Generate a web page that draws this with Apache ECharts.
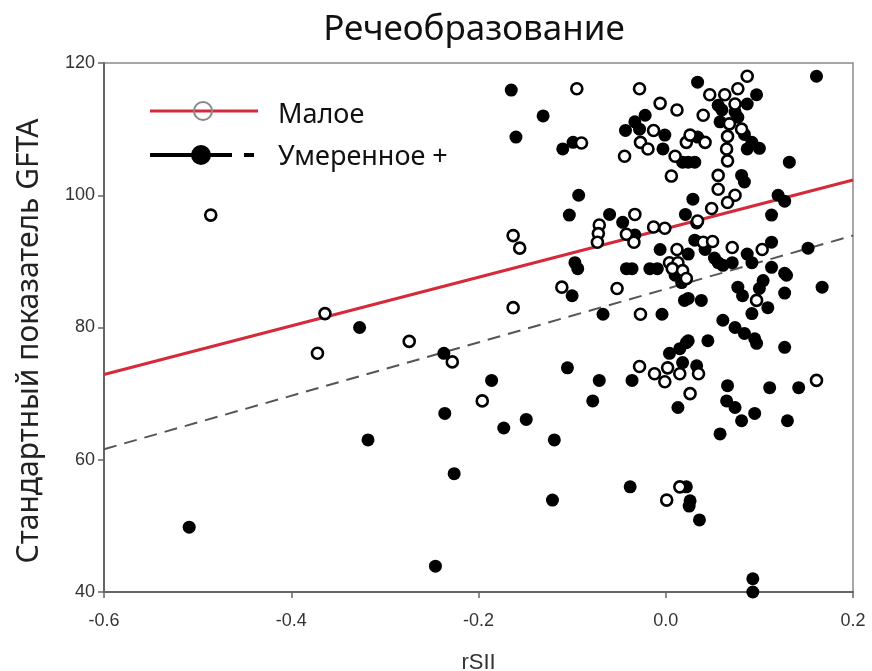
<!DOCTYPE html>
<html>
<head>
<meta charset="utf-8">
<script src="https://cdn.jsdelivr.net/npm/echarts@6/dist/echarts.min.js"></script>
<style>
html,body{margin:0;padding:0;background:#fff;}
#chart{width:872px;height:671px;}
</style>
</head>
<body>
<div id="chart"></div>
<script>
// ---- data ----
var titleText = 'Речеобразование';
var xAxisName = 'rSII';
var yAxisName = 'Стандартный показатель GFTA';
var seriesNames = ['Малое', 'Умеренное +'];

// Малое (hollow circles): [rSII, GFTA]
var maloePoints = [
  [-0.486,97.0],[-0.364,82.1],[-0.372,76.1],[-0.274,77.9],[-0.228,74.8],[-0.196,68.9],
  [-0.163,93.9],[-0.156,92.0],[-0.163,83.0],[-0.095,116.1],[-0.090,107.9],[-0.111,86.1],
  [-0.028,116.1],[-0.006,113.9],[0.012,112.9],[-0.013,109.8],[-0.027,108.0],[-0.019,107.0],
  [-0.044,105.9],[0.010,105.9],[0.022,108.0],[0.006,102.9],[-0.071,95.5],[-0.072,94.2],
  [-0.073,92.9],[-0.033,97.1],[-0.042,94.1],[-0.034,92.9],[-0.013,95.2],[-0.001,95.0],
  [0.012,91.8],[0.004,89.8],[0.013,89.8],[0.007,88.9],[0.018,88.6],[0.022,87.4],
  [0.087,118.0],[0.077,116.1],[0.047,115.2],[0.063,115.2],[0.074,113.8],[0.040,112.1],
  [0.068,110.8],[0.081,110.0],[0.026,109.1],[0.042,108.0],[0.066,108.9],[0.065,107.0],
  [0.066,105.2],[0.056,103.0],[0.056,100.9],[0.074,100.0],[0.066,98.9],[0.049,98.0],
  [0.034,96.1],[0.040,92.9],[0.050,93.0],[0.071,92.1],[0.103,91.8],[-0.052,85.9],
  [-0.027,82.0],[-0.028,74.1],[-0.012,73.0],[-0.001,71.8],[0.002,73.9],[0.015,73.0],
  [0.035,73.0],[0.026,70.0],[0.097,84.1],[0.161,72.0],[0.015,55.9],[0.001,53.9]
];

// Умеренное + (filled circles): [rSII, GFTA]
var umerennoePoints = [
  [-0.509,49.8],[-0.327,80.0],[-0.318,63.0],[-0.237,76.1],[-0.236,67.0],[-0.226,57.9],
  [-0.246,43.9],[-0.186,72.0],[-0.173,64.8],[-0.149,66.1],[-0.165,115.9],[-0.160,108.8],
  [-0.131,112.0],[-0.119,63.0],[-0.121,53.9],[-0.105,73.9],[-0.078,68.9],[-0.071,72.0],
  [-0.110,107.0],[-0.099,108.0],[-0.093,100.0],[-0.103,97.0],[-0.097,89.8],[-0.094,88.9],
  [-0.100,84.8],[-0.022,112.1],[-0.033,111.1],[-0.043,109.8],[-0.028,110.0],[-0.001,109.1],
  [-0.003,107.0],[0.018,105.0],[-0.060,97.1],[-0.046,95.9],[-0.006,91.8],[0.021,97.1],
  [-0.042,88.9],[-0.036,88.9],[-0.017,88.9],[-0.009,88.9],[0.034,117.1],[0.097,115.2],
  [0.161,118.0],[0.087,113.8],[0.056,113.6],[0.060,112.9],[0.058,111.1],[0.074,112.6],
  [0.077,111.8],[0.034,108.8],[0.084,109.2],[0.092,108.0],[0.087,107.0],[0.100,107.1],
  [0.024,105.0],[0.031,105.0],[0.081,103.0],[0.084,102.0],[0.132,105.0],[0.029,99.4],
  [0.120,100.0],[0.127,99.1],[0.113,97.0],[0.031,93.2],[0.042,91.8],[0.113,92.9],
  [0.152,92.0],[0.024,91.1],[0.056,89.8],[0.071,89.8],[0.087,91.1],[0.092,89.8],
  [0.052,90.5],[0.061,89.4],[0.113,89.1],[0.129,87.9],[0.104,87.1],[0.100,85.9],
  [0.077,86.1],[0.082,84.8],[0.109,83.0],[0.092,82.1],[0.127,88.2],[0.127,85.2],
  [0.167,86.1],[0.024,84.4],[0.038,84.1],[0.010,87.9],[0.017,86.8],[0.020,84.1],
  [-0.067,82.0],[-0.004,82.0],[0.061,81.1],[0.074,80.0],[0.084,79.1],[0.095,78.3],
  [0.097,77.6],[0.024,78.0],[0.045,78.0],[0.127,77.0],[0.004,76.1],[0.015,76.8],
  [0.018,74.7],[0.033,74.2],[0.022,77.7],[-0.036,72.0],[0.013,67.9],[0.066,71.2],
  [0.065,68.9],[0.074,67.9],[0.095,67.0],[0.081,65.9],[0.058,63.9],[0.111,70.9],
  [0.142,70.9],[0.130,65.9],[-0.038,55.9],[0.022,55.9],[0.026,53.8],[0.025,53.0],
  [0.036,50.9],[0.093,42.0],[0.093,40.0],[-0.033,94.0],[0.033,95.8]
];

// regression lines (end points)
var regX = [-0.6, 0.2];
var regMaloeY = [72.9, 102.3];
var regUmerY = [61.6, 93.9];

var xTicks = { min: -0.6, max: 0.2, interval: 0.2 };
var yTicks = { min: 40, max: 120, interval: 20 };

// ---- chart ----
var chart = echarts.init(document.getElementById('chart'), null, { renderer: 'canvas' });

function zip(xs, ys) { return xs.map(function (x, i) { return [x, ys[i]]; }); }

var tickFont = { fontFamily: 'Liberation Sans', fontSize: 18, color: '#333' };

var option = {
  animation: false,
  backgroundColor: '#ffffff',
  title: {
    text: titleText,
    left: 469, top: 8, textAlign: 'center',
    textStyle: { fontFamily: 'Noto Sans', fontSize: 35, fontWeight: 'normal', color: '#111' }
  },
  grid: {
    left: 104, right: 19, top: 63, bottom: 79,
    containLabel: false, outerBoundsMode: 'none',
    show: true, borderColor: '#8a8a8a', borderWidth: 1.5, backgroundColor: 'transparent'
  },
  xAxis: {
    type: 'value', min: xTicks.min, max: xTicks.max, interval: xTicks.interval,
    name: xAxisName, nameLocation: 'middle', nameGap: 60,
    nameTextStyle: { fontFamily: 'Liberation Sans', fontSize: 22, color: '#333' },
    axisLine: { onZero: false, lineStyle: { color: '#666', width: 2 } },
    axisTick: { show: true, inside: false, length: 6, lineStyle: { color: '#666', width: 1.5 } },
    axisLabel: Object.assign({ margin: 20, formatter: function (v) { return v.toFixed(1); } }, tickFont),
    splitLine: { show: false }
  },
  yAxis: {
    type: 'value', min: yTicks.min, max: yTicks.max, interval: yTicks.interval,
    name: yAxisName, nameLocation: 'middle', nameGap: 60,
    nameTextStyle: { fontFamily: 'Noto Sans', fontSize: 30, color: '#222', padding: [0, 27, 0, 0] },
    axisLine: { show: true, onZero: false, lineStyle: { color: '#666', width: 2 } },
    axisTick: { show: true, inside: false, length: 6, lineStyle: { color: '#666', width: 1.5 } },
    axisLabel: Object.assign({ margin: 9 }, tickFont),
    splitLine: { show: false }
  },
  series: [
    {
      name: seriesNames[1] + ' (линия)', type: 'line', data: zip(regX, regUmerY), showSymbol: false, z: 3,
      lineStyle: { color: '#555', width: 2, type: [13, 8] }
    },
    {
      name: seriesNames[0] + ' (линия)', type: 'line', data: zip(regX, regMaloeY), showSymbol: false, z: 3,
      lineStyle: { color: '#d42a3a', width: 3 }
    },
    {
      name: seriesNames[1], type: 'scatter', data: umerennoePoints, symbol: 'circle', symbolSize: 13, z: 4,
      itemStyle: { color: '#000', borderColor: '#000', borderWidth: 0, opacity: 1 }
    },
    {
      name: seriesNames[0], type: 'scatter', data: maloePoints, symbol: 'circle', symbolSize: 11, z: 5,
      itemStyle: { color: '#fff', borderColor: '#000', borderWidth: 2.6, opacity: 1 }
    }
  ],
  graphic: [
    { type: 'line', shape: { x1: 150, y1: 111, x2: 258, y2: 111 }, style: { stroke: '#d42a3a', lineWidth: 3 }, z: 10 },
    { type: 'circle', shape: { cx: 203, cy: 111, r: 9 }, style: { fill: 'transparent', stroke: '#888', lineWidth: 2 }, z: 11 },
    { type: 'text', x: 278, y: 115, style: { text: seriesNames[0], fontFamily: 'Noto Sans', fontSize: 27, fill: '#111', textVerticalAlign: 'middle' }, z: 10 },
    { type: 'line', shape: { x1: 150, y1: 155, x2: 232, y2: 155 }, style: { stroke: '#000', lineWidth: 4 }, z: 10 },
    { type: 'line', shape: { x1: 244, y1: 155, x2: 254, y2: 155 }, style: { stroke: '#000', lineWidth: 4 }, z: 10 },
    { type: 'circle', shape: { cx: 201, cy: 155, r: 10 }, style: { fill: '#000' }, z: 11 },
    { type: 'text', x: 278, y: 157, style: { text: seriesNames[1], fontFamily: 'Noto Sans', fontSize: 27, fill: '#111', textVerticalAlign: 'middle' }, z: 10 }
  ]
};
chart.setOption(option);
</script>
</body>
</html>
